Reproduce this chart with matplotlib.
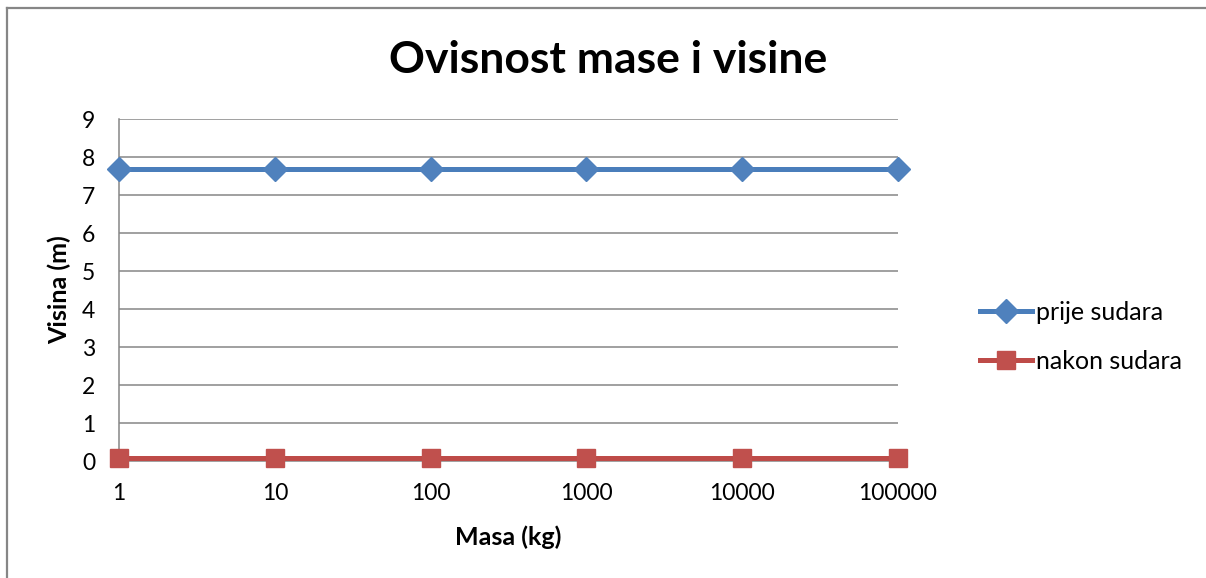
import matplotlib
matplotlib.use("Agg")
import matplotlib.pyplot as plt
from matplotlib.lines import Line2D

categories = ["1", "10", "100", "1000", "10000", "100000"]
prije_sudara = [7.68, 7.68, 7.68, 7.68, 7.68, 7.68]
nakon_sudara = [0.07, 0.07, 0.07, 0.07, 0.07, 0.07]
y_ticks = [0, 1, 2, 3, 4, 5, 6, 7, 8, 9]

plt.rcParams['font.family'] = ['Lato', 'DejaVu Sans']

W, H = 1206, 578
fig = plt.figure(figsize=(W / 100, H / 100), dpi=100)
# outer chart border (only left and top visible in the crop)
fig.lines.append(Line2D([6.5 / W, 6.5 / W], [0, 1 - 8 / H], transform=fig.transFigure,
                        color='#868686', lw=1.6))
fig.lines.append(Line2D([6.5 / W, 1], [1 - 8 / H, 1 - 8 / H], transform=fig.transFigure,
                        color='#868686', lw=1.6))

ax = fig.add_axes([119 / W, 1 - 461 / H, (898 - 119) / W, (461 - 119) / H])
x = list(range(len(categories)))
blue_line, blue_marker = '#4A7EBB', '#4F81BD'
red_line, red_marker = '#BE4B48', '#C0504D'

ax.plot(x, prije_sudara, color=blue_line, lw=3.6, marker='D', ms=12,
        markerfacecolor=blue_marker, markeredgecolor=blue_marker,
        label='prije sudara', zorder=3, clip_on=False)
ax.plot(x, nakon_sudara, color=red_line, lw=3.6, marker='s', ms=13,
        markerfacecolor=red_marker, markeredgecolor=red_marker,
        label='nakon sudara', zorder=3, clip_on=False)

ax.set_xlim(0, len(categories) - 1)
ax.set_ylim(0, 9)
ax.set_yticks(y_ticks)
ax.set_xticks(x)
ax.set_xticklabels(categories)
ax.yaxis.grid(True, color='#868686', lw=1.1)
ax.set_axisbelow(True)
for s in ['top', 'right']:
    ax.spines[s].set_visible(False)
ax.spines['left'].set_color('#868686')
ax.spines['left'].set_linewidth(1.1)
ax.spines['bottom'].set_color('#868686')
ax.spines['bottom'].set_linewidth(1.1)
ax.tick_params(axis='both', length=0, labelsize=16.5)
ax.tick_params(axis='y', pad=17)
ax.tick_params(axis='x', pad=16)

ax.set_xlabel('Masa (kg)', fontsize=18, fontweight='bold', labelpad=15)
ax.set_ylabel('Visina (m)', fontsize=18, fontweight='bold', labelpad=8)

fig.text(608 / W, 1 - 60 / H, 'Ovisnost mase i visine', fontsize=32,
         fontweight='bold', ha='center', va='center')

leg = fig.legend(loc='center left', bbox_to_anchor=(957 / W, 1 - 337 / H),
                 frameon=False, fontsize=18, handlelength=2.1,
                 handletextpad=0.15, labelspacing=1.05, markerscale=1.0)

fig.savefig('out.png', dpi=100)
